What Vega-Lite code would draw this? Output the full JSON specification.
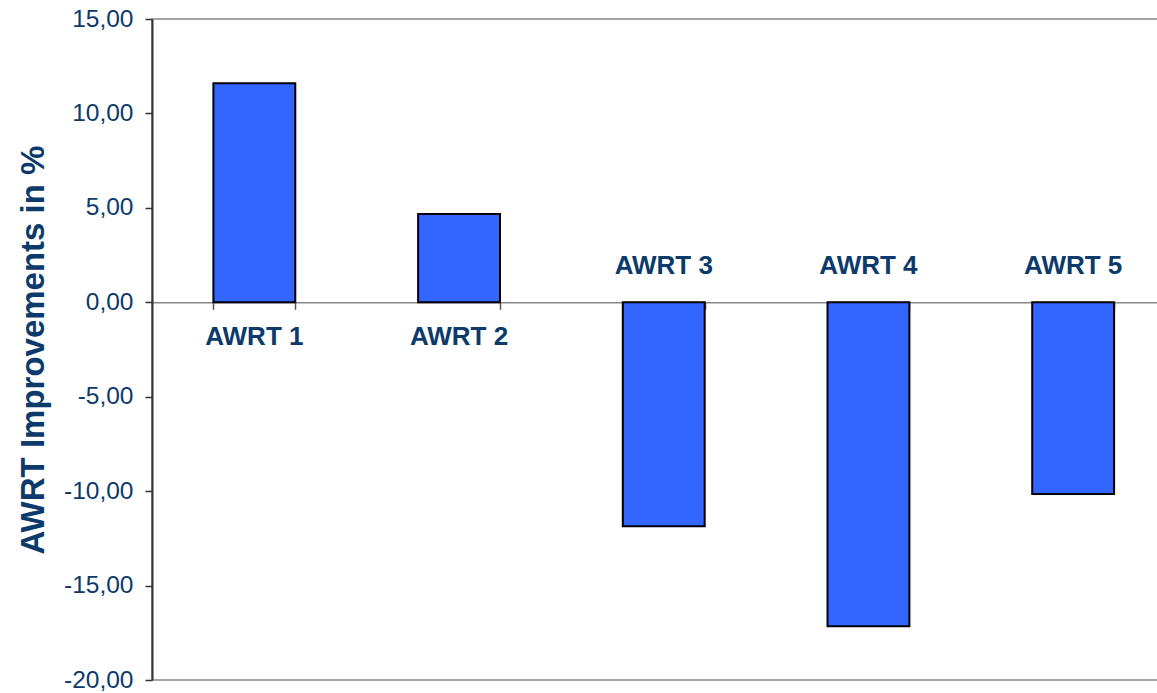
{
  "$schema": "https://vega.github.io/schema/vega-lite/v6.json",
  "width": 1023.5,
  "height": 661,
  "autosize": "none",
  "padding": {"left": 152, "top": 19, "right": 0, "bottom": 14},
  "background": "white",
  "data": {
    "values": [
      {"run": "AWRT 1", "improvement": 11.6},
      {"run": "AWRT 2", "improvement": 4.68},
      {"run": "AWRT 3", "improvement": -11.86},
      {"run": "AWRT 4", "improvement": -17.15},
      {"run": "AWRT 5", "improvement": -10.15}
    ]
  },
  "encoding": {
    "x": {
      "field": "run",
      "type": "nominal",
      "sort": null,
      "scale": {"paddingInner": 0.6, "paddingOuter": 0.3},
      "axis": {
        "orient": "bottom",
        "offset": -377.7,
        "labels": false,
        "title": null,
        "domainColor": "#888888",
        "domainWidth": 1.5,
        "tickColor": "#555555",
        "tickWidth": 1.5,
        "tickSize": 7,
        "tickBand": "extent"
      }
    }
  },
  "layer": [
    {
      "mark": {"type": "bar", "fill": "#3366FF", "stroke": "#000000", "strokeWidth": 2},
      "encoding": {
        "y": {
          "field": "improvement",
          "type": "quantitative",
          "scale": {"domain": [-20, 15], "nice": false},
          "axis": {
            "title": "AWRT Improvements in %",
            "values": [-20, -15, -10, -5, 0, 5, 10, 15],
            "labelExpr": "replace(replace(format(datum.value, '.2f'), '.', ','), '\u2212', '-')",
            "grid": false,
            "domainColor": "#333333",
            "domainWidth": 2,
            "tickColor": "#333333",
            "tickWidth": 1.5,
            "tickSize": 7,
            "labelPadding": 12,
            "labelFont": "Liberation Sans",
            "labelFontSize": 24.5,
            "labelColor": "#0B3A6B",
            "titleFont": "Liberation Sans",
            "titleFontSize": 33,
            "titleFontWeight": "bold",
            "titleColor": "#0B3A6B",
            "titlePadding": 13
          }
        }
      }
    },
    {
      "transform": [{"filter": "datum.improvement >= 0"}],
      "mark": {
        "type": "text",
        "dy": 35,
        "align": "center",
        "baseline": "middle",
        "font": "Liberation Sans",
        "fontSize": 26,
        "fontWeight": "bold",
        "color": "#0B3A6B"
      },
      "encoding": {
        "y": {"datum": 0, "type": "quantitative"},
        "text": {"field": "run"}
      }
    },
    {
      "transform": [{"filter": "datum.improvement < 0"}],
      "mark": {
        "type": "text",
        "dy": -36,
        "align": "center",
        "baseline": "middle",
        "font": "Liberation Sans",
        "fontSize": 26,
        "fontWeight": "bold",
        "color": "#0B3A6B"
      },
      "encoding": {
        "y": {"datum": 0, "type": "quantitative"},
        "text": {"field": "run"}
      }
    }
  ],
  "config": {
    "view": {"stroke": "#888888", "strokeWidth": 1.5}
  }
}
